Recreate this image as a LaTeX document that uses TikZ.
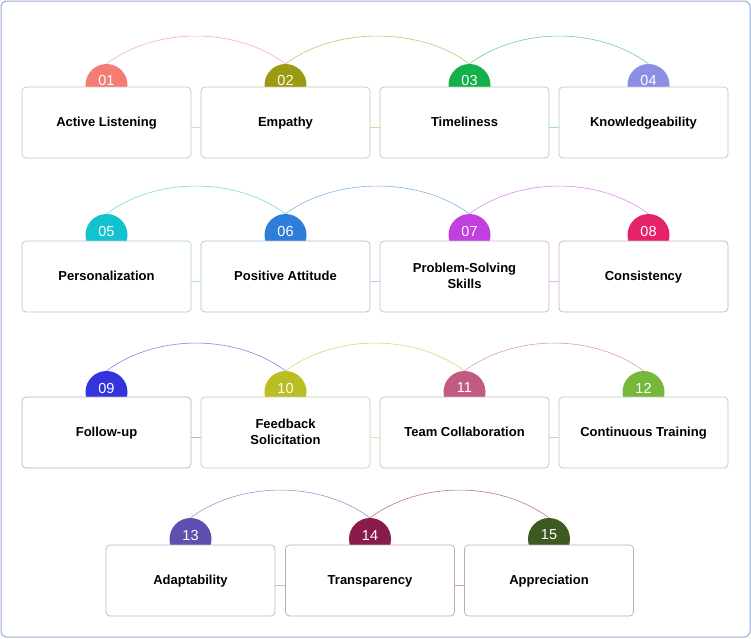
\documentclass[tikz,border=0pt]{standalone}
\usepackage{fontspec}
\setmainfont{Liberation Sans}

% Badge colours
\definecolor{col01}{HTML}{F57C73}
\definecolor{col02}{HTML}{9B9B12}
\definecolor{col03}{HTML}{14B14B}
\definecolor{col04}{HTML}{8B8FE4}
\definecolor{col05}{HTML}{14C1CF}
\definecolor{col06}{HTML}{2E7DD9}
\definecolor{col07}{HTML}{C040E0}
\definecolor{col08}{HTML}{E6226B}
\definecolor{col09}{HTML}{3434DD}
\definecolor{col10}{HTML}{BBBE22}
\definecolor{col11}{HTML}{C25A82}
\definecolor{col12}{HTML}{77B83B}
\definecolor{col13}{HTML}{5E50AE}
\definecolor{col14}{HTML}{8A1C4A}
\definecolor{col15}{HTML}{3E5A23}
\definecolor{framecol}{HTML}{94A7D8}

% strut that centres the capitals of a line
\newcommand{\tstrut}{\rule[-3.5pt]{0pt}{14.5pt}}

\begin{document}
\begin{tikzpicture}[x=1pt, y=-1pt,
    box/.style={draw=#1!40!gray!50, fill=white, rounded corners=4pt, line width=0.7pt,
        minimum width=169pt, minimum height=71pt, align=center,
        font=\fontsize{13}{16.5}\selectfont\bfseries},
    badge/.style={circle, fill=#1, minimum size=42pt, inner sep=0pt},
    num/.style={text=white, font=\fontsize{14.5}{14.5}\selectfont, yshift=4pt},
    link/.style={draw=#1!60, line width=0.6pt},
    wire/.style={draw=#1!40, line width=0.8pt},
    frame/.style={draw=framecol, line width=1pt, rounded corners=6pt}]
    \useasboundingbox (0,0) rectangle (751,638);

    % Outer frame
    \draw[frame] (1,1) rectangle (750,637);

    % Badges, boxes and texts
    \foreach \i/\bx/\by/\cx/\cy/\txt in {
        01/106.5/122.5/106.5/85/{Active Listening},
        02/285.5/122.5/285.5/85/{Empathy},
        03/464.5/122.5/469.5/85/{Timeliness},
        04/643.5/122.5/648.5/85/{Knowledgeability},
        05/106.5/276.5/106.5/235/{Personalization},
        06/285.5/276.5/285.5/235/{Positive Attitude},
        07/464.5/276.5/469.5/235/{Problem-Solving\\Skills},
        08/643.5/276.5/648.5/235/{Consistency},
        09/106.5/432.5/106.5/392/{Follow-up},
        10/285.5/432.5/285.5/392/{Feedback\\Solicitation},
        11/464.5/432.5/464.5/392/{Team Collaboration},
        12/643.5/432.5/643.5/392/{Continuous Training},
        13/190.5/580.5/190.5/539/{Adaptability},
        14/370/580.5/370/539/{Transparency},
        15/549/580.5/549/539/{Appreciation}}
    {
        \node[badge=col\i] (badge\i) at (\cx,\cy) {};
        \node[num] (num\i) at (badge\i) {\i};
        \node[box=col\i] (box\i) at (\bx,\by) {\tstrut\txt\tstrut};
    }

    % Arcs between badges
    \foreach \a/\b in {01/02,02/03,03/04,05/06,06/07,07/08,09/10,10/11,11/12,13/14,14/15}
        \draw[link=col\a] (badge\a.north) .. controls +(50,-37) and +(-50,-37) .. (badge\b.north);

    % Short links between boxes
    \foreach \a/\b in {01/02,02/03,03/04,05/06,06/07,07/08,09/10,10/11,11/12,13/14,14/15}
        \draw[wire=col\a] ([yshift=-5pt]box\a.east) -- ([yshift=-5pt]box\b.west);

\end{tikzpicture}
\end{document}
